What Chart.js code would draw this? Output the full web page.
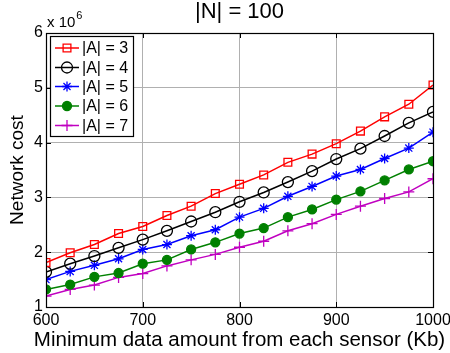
<!DOCTYPE html>
<html>
<head>
<meta charset="utf-8">
<script src="https://cdn.jsdelivr.net/npm/chart.js@4.4.1/dist/chart.umd.min.js"></script>
<style>
  html, body { margin: 0; padding: 0; background: #ffffff; }
  #wrap { width: 450px; height: 353px; }
</style>
</head>
<body>
<div id="wrap"><canvas id="c" width="450" height="353"></canvas></div>
<script>
// Minimum data amount from each sensor (Kb)
const dataAmount = [600, 625, 650, 675, 700, 725, 750, 775, 800, 825, 850, 875, 900, 925, 950, 975, 1000];

// Network cost (x 10^6) for each number of access points |A|
const costA3 = [1.81, 1.99, 2.14, 2.34, 2.47, 2.67, 2.84, 3.07, 3.24, 3.41, 3.64, 3.79, 3.98, 4.21, 4.47, 4.70, 5.05];
const costA4 = [1.64, 1.79, 1.93, 2.08, 2.23, 2.39, 2.56, 2.73, 2.92, 3.09, 3.28, 3.48, 3.70, 3.89, 4.12, 4.36, 4.56];
const costA5 = [1.50, 1.65, 1.76, 1.88, 2.05, 2.14, 2.30, 2.41, 2.64, 2.80, 3.02, 3.20, 3.39, 3.51, 3.71, 3.90, 4.19];
const costA6 = [1.32, 1.41, 1.55, 1.62, 1.79, 1.86, 2.05, 2.18, 2.34, 2.44, 2.64, 2.78, 2.96, 3.11, 3.31, 3.51, 3.66];
const costA7 = [1.20, 1.32, 1.40, 1.54, 1.61, 1.75, 1.86, 1.96, 2.09, 2.20, 2.39, 2.52, 2.69, 2.84, 2.98, 3.10, 3.34];

const seriesLabels = ['|A| = 3', '|A| = 4', '|A| = 5', '|A| = 6', '|A| = 7'];
const xTicks = [600, 700, 800, 900, 1000];
const yTicks = [1, 2, 3, 4, 5, 6];

const chartTitle = '|N| = 100';
const xTitle = 'Minimum data amount from each sensor (Kb)';
const yTitle = 'Network cost';

const FONT = '"Liberation Sans", Arial, Helvetica, sans-serif';

function points(ys) {
  return ys.map((y, i) => ({ x: dataAmount[i], y: y }));
}

const styles = [
  { color: '#ff0000', pointStyle: 'rect',   radius: 5.5, fill: false },
  { color: '#000000', pointStyle: 'circle', radius: 5.5, fill: false },
  { color: '#0000ff', pointStyle: 'star',   radius: 5,   fill: false },
  { color: '#008000', pointStyle: 'circle', radius: 4.5, fill: true  },
  { color: '#c000c0', pointStyle: 'cross',  radius: 5.5, fill: false }
];
const seriesValues = [costA3, costA4, costA5, costA6, costA7];

const datasets = seriesValues.map((vals, i) => ({
  label: seriesLabels[i],
  data: points(vals),
  borderColor: styles[i].color,
  backgroundColor: styles[i].fill ? styles[i].color : 'rgba(0,0,0,0)',
  pointBorderColor: styles[i].color,
  pointBackgroundColor: styles[i].fill ? styles[i].color : 'rgba(0,0,0,0)',
  pointStyle: styles[i].pointStyle,
  pointRadius: styles[i].radius,
  pointHoverRadius: styles[i].radius,
  pointBorderWidth: 1.3,
  borderWidth: 1.5,
  tension: 0,
  fill: false
}));

// Axes box, inward tick marks, titles, exponent label and boxed legend
const frame = {
  id: 'frame',
  afterDatasetsDraw(chart) {
    const ctx = chart.ctx;
    const a = chart.chartArea;
    const xs = chart.scales.x, ys = chart.scales.y;
    ctx.save();
    ctx.strokeStyle = '#000';
    ctx.lineWidth = 1;
    ctx.beginPath();
    xTicks.forEach(v => {
      const px = Math.round(xs.getPixelForValue(v)) + 0.5;
      ctx.moveTo(px, a.bottom); ctx.lineTo(px, a.bottom - 5);
      ctx.moveTo(px, a.top); ctx.lineTo(px, a.top + 5);
    });
    yTicks.forEach(v => {
      const py = Math.round(ys.getPixelForValue(v)) + 0.5;
      ctx.moveTo(a.left, py); ctx.lineTo(a.left + 5, py);
      ctx.moveTo(a.right, py); ctx.lineTo(a.right - 5, py);
    });
    ctx.stroke();
    ctx.lineWidth = 1.2;
    ctx.strokeRect(Math.round(a.left) + 0.5, Math.round(a.top) + 0.5,
                   Math.round(a.right - a.left), Math.round(a.bottom - a.top));

    // title
    ctx.fillStyle = '#000';
    ctx.textAlign = 'center';
    ctx.textBaseline = 'middle';
    ctx.font = '22px ' + FONT;
    ctx.fillText(chartTitle, (a.left + a.right) / 2, 12);

    // x axis title, wider than the plot area
    ctx.font = '20.5px ' + FONT;
    ctx.fillText(xTitle, (a.left + a.right) / 2, 340);

    // exponent label
    ctx.textAlign = 'left';
    ctx.font = '15px ' + FONT;
    ctx.fillText('x 10', a.left + 1, 23);
    const w = ctx.measureText('x 10').width;
    ctx.font = '11px ' + FONT;
    ctx.fillText('6', a.left + 1 + w + 1, 16);

    // legend box
    const lx = 50, ly = 36, lw = 83, lh = 100;
    ctx.fillStyle = '#fff';
    ctx.fillRect(lx, ly, lw, lh);
    ctx.lineWidth = 1.2;
    ctx.strokeStyle = '#000';
    ctx.strokeRect(lx + 0.5, ly + 0.5, lw, lh);
    const rowY = [48, 67.5, 86.5, 106, 125.5];
    chart.data.datasets.forEach((ds, i) => {
      const y = rowY[i];
      ctx.strokeStyle = ds.borderColor;
      ctx.lineWidth = 1.5;
      ctx.beginPath();
      ctx.moveTo(55, y); ctx.lineTo(79, y);
      ctx.stroke();
      ctx.fillStyle = ds.pointBackgroundColor;
      ctx.strokeStyle = ds.pointBorderColor;
      ctx.lineWidth = 1.3;
      Chart.helpers.drawPoint(ctx, { pointStyle: ds.pointStyle, radius: ds.pointRadius, borderWidth: 1.3, rotation: 0 }, 67, y);
      ctx.fillStyle = '#000';
      ctx.font = '16px ' + FONT;
      ctx.textAlign = 'left';
      ctx.textBaseline = 'middle';
      ctx.fillText(ds.label, 82, y + 1);
    });
    ctx.restore();
  }
};

new Chart(document.getElementById('c'), {
  type: 'line',
  data: { datasets: datasets },
  plugins: [frame],
  options: {
    responsive: false,
    animation: false,
    devicePixelRatio: 1,
    layout: { padding: { top: 33, right: 17, left: 0, bottom: 0 } },
    plugins: {
      legend: { display: false },
      title: { display: false },
      tooltip: { enabled: false }
    },
    scales: {
      x: {
        type: 'linear',
        min: 600, max: 1000,
        afterBuildTicks(scale) { scale.ticks = xTicks.map(v => ({ value: v })); },
        afterFit(scale) { scale.height = 46; scale.paddingLeft = 0; scale.paddingRight = 0; },
        grid: { color: '#b0b0b0', lineWidth: 1, borderDash: [1, 3], drawTicks: false },
        border: { display: false },
        ticks: { color: '#000', font: { family: FONT, size: 16 }, padding: 4, maxRotation: 0, autoSkip: false,
                 callback: v => String(v) },
        title: { display: false }
      },
      y: {
        type: 'linear',
        min: 1, max: 6,
        afterBuildTicks(scale) { scale.ticks = yTicks.map(v => ({ value: v })); },
        afterFit(scale) { scale.width = 46; scale.paddingTop = 0; scale.paddingBottom = 0; },
        grid: { color: '#b0b0b0', lineWidth: 1, borderDash: [1, 3], drawTicks: false },
        border: { display: false },
        ticks: { color: '#000', font: { family: FONT, size: 16 }, padding: 3, autoSkip: false },
        title: { display: true, text: yTitle, color: '#000', font: { family: FONT, size: 19 }, padding: { top: 6, bottom: 0 } }
      }
    }
  }
});
</script>
</body>
</html>
